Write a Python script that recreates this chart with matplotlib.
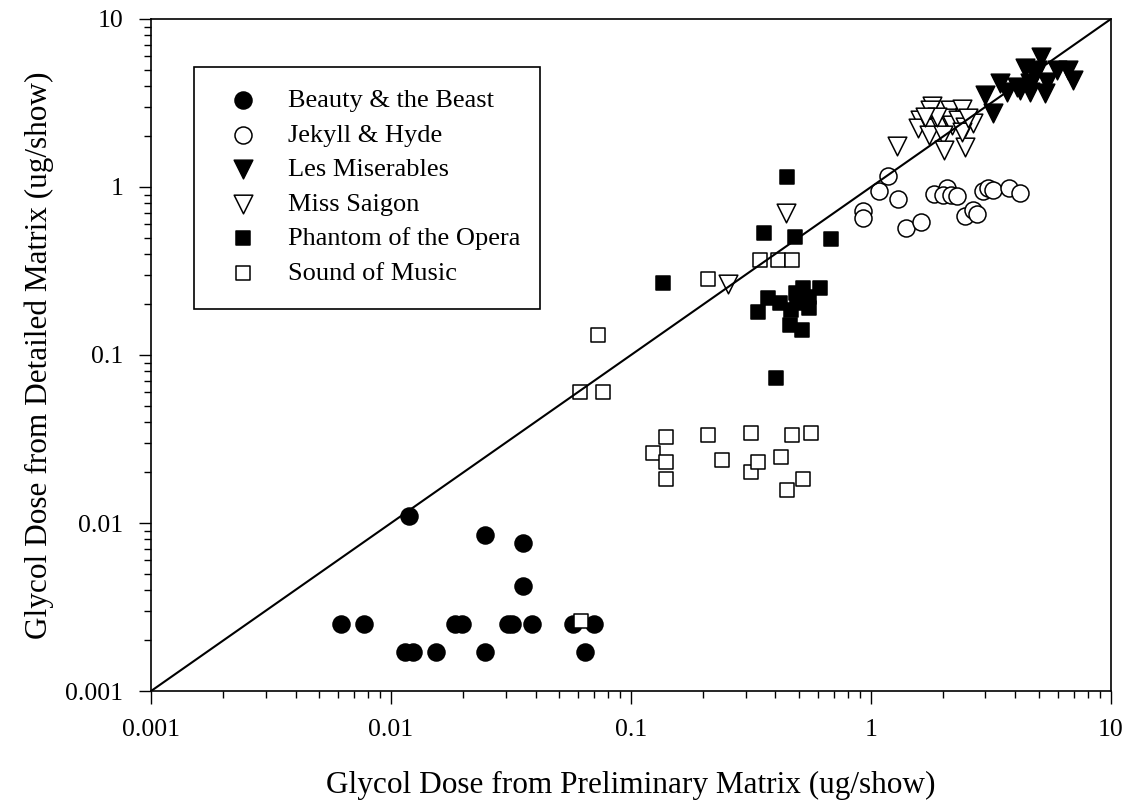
import matplotlib
matplotlib.use('Agg')
import matplotlib.pyplot as plt
from matplotlib.patches import Rectangle

plt.rcParams['font.family'] = ['Liberation Serif', 'DejaVu Serif']

# values (ug/show)
beauty_x = [0.0119, 0.0247, 0.0356, 0.0356, 0.0062, 0.0077, 0.0185, 0.0197, 0.0306,
            0.0320, 0.0385, 0.0575, 0.0700, 0.0114, 0.0124, 0.0154, 0.0247, 0.0645]
beauty_y = [0.0110, 0.0085, 0.0076, 0.0042, 0.00249, 0.00249, 0.00249, 0.00249, 0.00249,
            0.00249, 0.00249, 0.00249, 0.00249, 0.00171, 0.00171, 0.00171, 0.00171, 0.00171]

jekyll_x = [1.18, 1.08, 1.30, 0.93, 0.93, 1.40, 1.61, 1.83, 2.07, 2.00,
            2.15, 2.29, 2.46, 2.67, 2.76, 2.94, 3.08, 3.23, 3.77, 4.18]
jekyll_y = [1.16, 0.94, 0.85, 0.72, 0.65, 0.57, 0.62, 0.91, 0.98, 0.90,
            0.90, 0.88, 0.67, 0.73, 0.69, 0.94, 0.98, 0.96, 0.98, 0.92]

les_x = [5.09, 4.38, 4.90, 5.94, 6.64, 6.97, 5.40, 4.60, 3.45, 3.67, 4.18, 4.60,
         5.31, 2.99, 3.23, 4.82, 4.05]
les_y = [5.97, 5.09, 4.97, 4.97, 4.97, 4.33, 4.23, 4.14, 4.14, 3.69, 3.78, 3.69,
         3.61, 3.53, 2.75, 4.64, 3.95]

saigon_x = [0.254, 0.443, 1.28, 1.79, 1.76, 2.13, 2.39, 1.60, 1.57, 1.76, 1.94, 2.07,
            2.17, 2.31, 2.46, 2.67, 1.74, 2.00, 2.02, 2.46, 2.39, 2.54, 1.88, 1.68]
saigon_y = [0.265, 0.697, 1.75, 3.03, 2.87, 2.87, 2.90, 2.51, 2.24, 2.24, 2.29, 2.57,
            2.34, 2.51, 2.27, 2.39, 2.04, 2.04, 1.66, 1.74, 2.13, 2.57, 2.62, 2.62]

phantom_x = [0.1365, 0.401, 0.448, 0.358, 0.484, 0.679, 0.373, 0.339, 0.418,
             0.487, 0.522, 0.613, 0.553, 0.463, 0.461, 0.514, 0.550, 0.490]
phantom_y = [0.269, 0.0726, 1.15, 0.535, 0.502, 0.489, 0.2175, 0.1795, 0.203,
             0.233, 0.249, 0.249, 0.190, 0.185, 0.151, 0.141, 0.222, 0.203]

sound_x = [0.345, 0.411, 0.467, 0.210, 0.0727, 0.0613, 0.0767, 0.140, 0.123, 0.140, 0.140,
           0.210, 0.239, 0.315, 0.315, 0.337, 0.421, 0.469, 0.561, 0.446, 0.522, 0.062]
sound_y = [0.368, 0.368, 0.368, 0.282, 0.1315, 0.060, 0.060, 0.0327, 0.0260, 0.0230, 0.0182,
           0.0334, 0.0237, 0.0345, 0.0202, 0.0230, 0.0248, 0.0334, 0.0345, 0.0157, 0.0182, 0.0026]

ticks = [0.001, 0.01, 0.1, 1, 10]
tick_labels = ['0.001', '0.01', '0.1', '1', '10']

fig = plt.figure(figsize=(11.34, 8.07), dpi=100)
ax = fig.add_axes([0.1332, 0.1437, 0.8465, 0.8328])
ax.set_xscale('log')
ax.set_yscale('log')

series = [
    ('Beauty & the Beast', beauty_x, beauty_y, 'o', 'black', 150),
    ('Jekyll & Hyde', jekyll_x, jekyll_y, 'o', 'white', 150),
    ('Les Miserables', les_x, les_y, 'v', 'black', 180),
    ('Miss Saigon', saigon_x, saigon_y, 'v', 'white', 180),
    ('Phantom of the Opera', phantom_x, phantom_y, 's', 'black', 115),
    ('Sound of Music', sound_x, sound_y, 's', 'white', 115),
]
for name, xs, ys, mk, fc, size in series:
    ax.scatter(xs, ys, marker=mk, s=size, facecolor=fc, edgecolor='black',
               linewidth=1.1, label=name, zorder=3)

ax.plot([0.001, 10], [0.001, 10], color='black', linewidth=1.5, zorder=4)

ax.set_xlim(0.001, 10)
ax.set_ylim(0.001, 10)
ax.set_xticks(ticks)
ax.set_xticklabels(tick_labels)
ax.set_yticks(ticks)
ax.set_yticklabels(tick_labels)
ax.tick_params(which='major', direction='out', length=9, width=1, labelsize=18.5, pad=11)
ax.tick_params(which='minor', direction='out', length=5, width=1)
for s in ax.spines.values():
    s.set_linewidth(1.2)

ax.set_xlabel('Glycol Dose from Preliminary Matrix (ug/show)', fontsize=22.5, labelpad=22)
ax.set_ylabel('Glycol Dose from Detailed Matrix (ug/show)', fontsize=22.5, labelpad=8)

# legend box drawn separately so its size matches the reference
ax.add_patch(Rectangle((0.0448, 0.5685), 0.3602, 0.3601, transform=ax.transAxes,
                       facecolor='white', edgecolor='black', linewidth=1.2, zorder=5))
leg = ax.legend(loc='upper left', bbox_to_anchor=(0.0573, 0.912), frameon=False,
                fontsize=19, handletextpad=0.7, labelspacing=0.42, borderaxespad=0,
                scatterpoints=1, markerscale=1.0)
leg.set_zorder(6)

fig.savefig('out.png', dpi=100)
